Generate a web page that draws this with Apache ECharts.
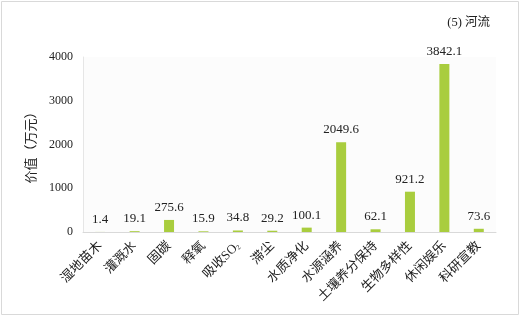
<!DOCTYPE html>
<html><head><meta charset="utf-8">
<script src="https://cdn.jsdelivr.net/npm/echarts@6/dist/echarts.min.js"></script>
<style>html,body{margin:0;padding:0;background:#fff}#c{width:529px;height:319px}</style>
</head><body><div id="c"></div>
<script>
const categories = ['湿地苗木','灌溉水','固碳','释氧','吸收SO2','滞尘','水质净化','水源涵养','土壤养分保持','生物多样性','休闲娱乐','科研宣教'];
const values = [1.4, 19.1, 275.6, 15.9, 34.8, 29.2, 100.1, 2049.6, 62.1, 921.2, 3842.1, 73.6];
const yTicks = [0, 1000, 2000, 3000, 4000];
const title = '(5) 河流';
const yName = '价值（万元）';

const serif = '"Liberation Serif","Times New Roman","Noto Sans CJK SC",serif';
const chart = echarts.init(document.getElementById('c'));
chart.setOption({
  animation: false,
  graphic: [{type:'rect', shape:{x:1.5,y:1.5,width:517,height:313}, style:{fill:'none', stroke:'#d9d9d9', lineWidth:1}},
            {type:'rect', shape:{x:83,y:57,width:413,height:175}, style:{fill:'#fcfcfc'}, z:-1}],
  title: {text: title, right: 34, top: 11, textStyle:{fontFamily:serif, fontSize:12.5, fontWeight:'normal', color:'#222'}},
  grid: {left:83, right:33, top:57, bottom:87},
  xAxis: {
    type:'category', data: categories,
    axisLine:{lineStyle:{color:'#d9d9d9'}}, axisTick:{show:false},
    axisLabel:{rotate:45, interval:0, margin:12, fontFamily:serif, fontSize:13, color:'#222',
      formatter: v => v === '吸收SO2' ? '吸收SO{sub|2}' : v,
      rich:{sub:{fontSize:7, verticalAlign:'bottom', padding:[6,0,0,0], fontFamily:serif, color:'#222'}}}
  },
  yAxis: {
    type:'value', min: yTicks[0], max: yTicks[yTicks.length-1], interval: 1000,
    name: yName, nameLocation:'middle', nameGap: 36, nameRotate: 90,
    nameTextStyle:{fontFamily:serif, fontSize:13, color:'#222'},
    axisLine:{show:true, lineStyle:{color:'#e6e6e6'}}, axisTick:{show:false},
    splitLine:{show:false},
    axisLabel:{fontFamily:serif, fontSize:12, color:'#222', margin:10, formatter: v => String(v)}
  },
  series: [{
    type:'bar', data: values, barWidth: 10,
    itemStyle:{color:'#a9cd3e'},
    label:{show:true, position:'top', distance:6, fontFamily:serif, fontSize:13, color:'#222',
      formatter: p => p.value.toFixed(1)}
  }]
});
</script></body></html>
